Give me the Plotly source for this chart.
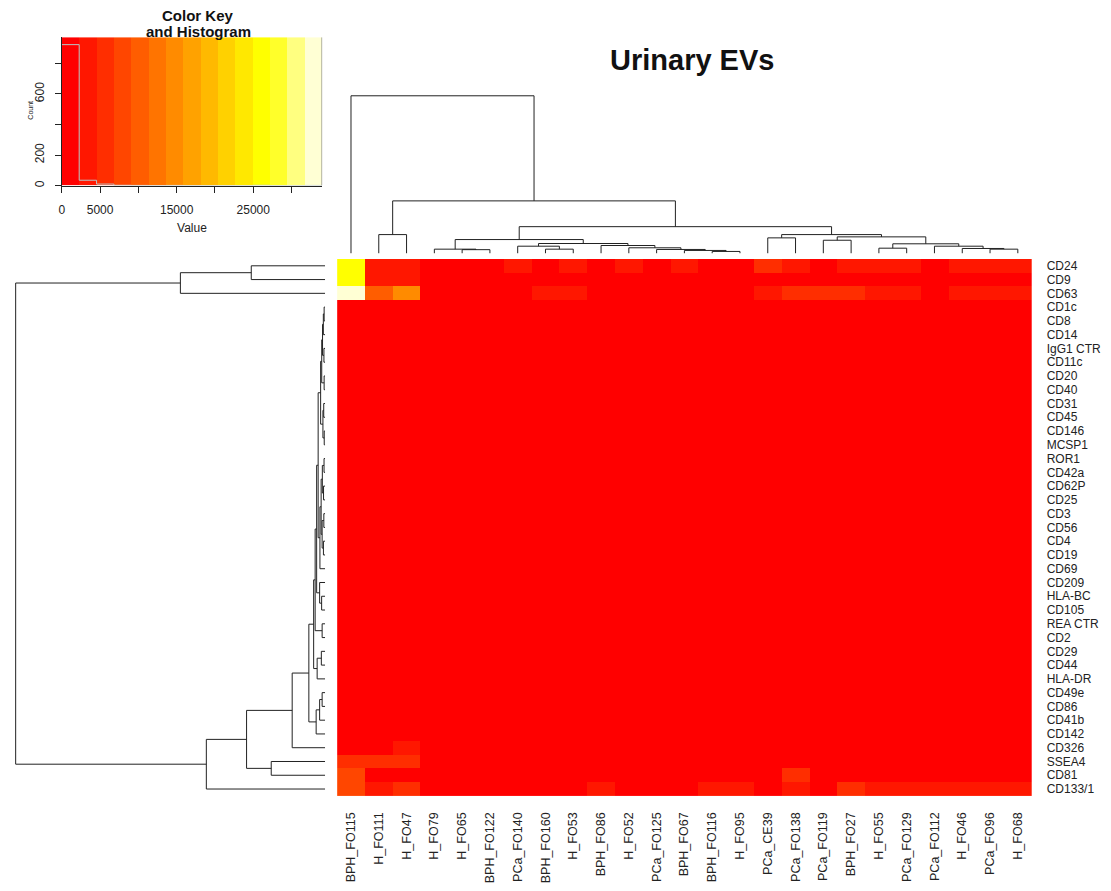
import numpy as np
import plotly.graph_objects as go

# ---------------- data ----------------
col_labels = ["BPH_FO115", "H_FO111", "H_FO47", "H_FO79", "H_FO65", "BPH_FO122", "PCa_FO140",
              "BPH_FO160", "H_FO53", "BPH_FO86", "H_FO52", "PCa_FO125", "BPH_FO67", "BPH_FO116",
              "H_FO95", "PCa_CE39", "PCa_FO138", "PCa_FO119", "BPH_FO27", "H_FO55", "PCa_FO129",
              "PCa_FO112", "H_FO46", "PCa_FO96", "H_FO68"]

row_labels = ["CD24", "CD9", "CD63", "CD1c", "CD8", "CD14", "IgG1 CTR", "CD11c", "CD20", "CD40",
              "CD31", "CD45", "CD146", "MCSP1", "ROR1", "CD42a", "CD62P", "CD25", "CD3", "CD56",
              "CD4", "CD19", "CD69", "CD209", "HLA-BC", "CD105", "REA CTR", "CD2", "CD29", "CD44",
              "HLA-DR", "CD49e", "CD86", "CD41b", "CD142", "CD326", "SSEA4", "CD81", "CD133/1"]

# estimated MFI values (rows in displayed order, columns in displayed order)
v_CD24 = [25500, 3600, 3400, 1900, 1800, 2000, 3100, 2100, 3000, 2000, 3200, 2100, 3000, 1900, 2200, 6200, 3800, 2100, 3300, 3100, 3000, 2000, 3200, 3300, 3100]
v_CD9 = [25000, 2900, 2800, 1300, 1200, 1100, 1400, 1200, 1300, 1000, 1100, 1200, 1300, 1100, 1000, 1500, 1400, 1200, 1300, 1200, 1100, 1000, 1300, 1200, 1100]
v_CD63 = [34000, 9500, 14500, 1600, 1500, 1400, 1700, 3300, 3400, 1800, 1600, 1500, 1700, 1800, 1900, 3200, 5000, 4900, 4700, 3600, 3500, 1900, 3300, 3400, 3500]
v_CD1c = [420, 380, 350, 300, 310, 290, 330, 360, 340, 300, 320, 310, 300, 290, 330, 350, 370, 300, 320, 310, 300, 290, 330, 320, 310]
v_CD8 = [390, 360, 330, 280, 290, 270, 310, 340, 320, 280, 300, 290, 280, 270, 310, 330, 350, 280, 300, 290, 280, 270, 310, 300, 290]
v_CD14 = [450, 400, 380, 330, 320, 300, 350, 380, 360, 320, 340, 330, 320, 310, 350, 370, 390, 330, 340, 330, 320, 310, 350, 340, 330]
v_IgG1 = [60, 45, 30, 0, 15, 10, 25, 40, 35, 20, 30, 25, 15, 10, 30, 45, 55, 20, 30, 25, 15, 10, 30, 25, 20]
v_CD11c = [480, 430, 400, 350, 340, 320, 370, 400, 380, 340, 360, 350, 340, 330, 370, 390, 410, 350, 360, 350, 340, 330, 370, 360, 350]
v_CD20 = [410, 370, 350, 300, 300, 280, 320, 350, 330, 300, 310, 300, 290, 280, 320, 340, 360, 300, 310, 300, 290, 280, 320, 310, 300]
v_CD40 = [440, 400, 370, 320, 330, 300, 340, 370, 350, 320, 330, 320, 310, 300, 340, 360, 380, 320, 330, 320, 310, 300, 340, 330, 320]
v_CD31 = [520, 470, 440, 380, 370, 350, 400, 430, 410, 370, 390, 380, 370, 360, 400, 420, 440, 380, 390, 380, 370, 360, 400, 390, 380]
v_CD45 = [500, 450, 420, 360, 360, 340, 390, 420, 400, 360, 380, 370, 360, 350, 390, 410, 430, 370, 380, 370, 360, 350, 390, 380, 370]
v_CD146 = [560, 500, 470, 410, 400, 380, 430, 460, 440, 400, 420, 410, 400, 390, 430, 450, 470, 410, 420, 410, 400, 390, 430, 420, 410]
v_MCSP1 = [540, 490, 460, 400, 390, 370, 420, 450, 430, 390, 410, 400, 390, 380, 420, 440, 460, 400, 410, 400, 390, 380, 420, 410, 400]
v_ROR1 = [580, 520, 490, 430, 420, 400, 450, 480, 460, 420, 440, 430, 420, 410, 450, 470, 490, 430, 440, 430, 420, 410, 450, 440, 430]
v_CD42a = [620, 560, 520, 460, 450, 430, 480, 510, 490, 450, 470, 460, 450, 440, 480, 500, 520, 460, 470, 460, 450, 440, 480, 470, 460]
v_CD62P = [600, 540, 510, 450, 440, 420, 470, 500, 480, 440, 460, 450, 440, 430, 470, 490, 510, 450, 460, 450, 440, 430, 470, 460, 450]
v_CD25 = [640, 580, 540, 480, 470, 450, 500, 530, 510, 470, 490, 480, 470, 460, 500, 520, 540, 480, 490, 480, 470, 460, 500, 490, 480]
v_CD3 = [660, 600, 560, 500, 490, 470, 520, 550, 530, 490, 510, 500, 490, 480, 520, 540, 560, 500, 510, 500, 490, 480, 520, 510, 500]
v_CD56 = [680, 620, 580, 520, 510, 490, 540, 570, 550, 510, 530, 520, 510, 500, 540, 560, 580, 520, 530, 520, 510, 500, 540, 530, 520]
v_CD4 = [700, 640, 600, 540, 530, 510, 560, 590, 570, 530, 550, 540, 530, 520, 560, 580, 600, 540, 550, 540, 530, 520, 560, 550, 540]
v_CD19 = [720, 660, 620, 560, 550, 530, 580, 610, 590, 550, 570, 560, 550, 540, 580, 600, 620, 560, 570, 560, 550, 540, 580, 570, 560]
v_CD69 = [760, 700, 660, 600, 590, 570, 620, 650, 630, 590, 610, 600, 590, 580, 620, 640, 660, 600, 610, 600, 590, 580, 620, 610, 600]
v_CD209 = [800, 740, 700, 640, 630, 610, 660, 690, 670, 630, 650, 640, 630, 620, 660, 680, 700, 640, 650, 640, 630, 620, 660, 650, 640]
v_HLABC = [850, 790, 750, 690, 680, 660, 710, 740, 720, 680, 700, 690, 680, 670, 710, 730, 750, 690, 700, 690, 680, 670, 710, 700, 690]
v_CD105 = [870, 810, 770, 710, 700, 680, 730, 760, 740, 700, 720, 710, 700, 690, 730, 750, 770, 710, 720, 710, 700, 690, 730, 720, 710]
v_REA = [90, 70, 60, 30, 35, 25, 45, 60, 55, 35, 45, 40, 35, 30, 50, 60, 70, 40, 45, 40, 35, 30, 50, 45, 40]
v_CD2 = [920, 860, 820, 760, 750, 730, 780, 810, 790, 750, 770, 760, 750, 740, 780, 800, 820, 760, 770, 760, 750, 740, 780, 770, 760]
v_CD29 = [980, 920, 880, 820, 810, 790, 840, 870, 850, 810, 830, 820, 810, 800, 840, 860, 880, 820, 830, 820, 810, 800, 840, 830, 820]
v_CD44 = [1000, 940, 900, 840, 830, 810, 860, 890, 870, 830, 850, 840, 830, 820, 860, 880, 900, 840, 850, 840, 830, 820, 860, 850, 840]
v_HLADR = [1080, 1020, 980, 920, 910, 890, 940, 970, 950, 910, 930, 920, 910, 900, 940, 960, 980, 920, 930, 920, 910, 900, 940, 930, 920]
v_CD49e = [1150, 1090, 1050, 990, 980, 960, 1010, 1040, 1020, 980, 1000, 990, 980, 970, 1010, 1030, 1050, 990, 1000, 990, 980, 970, 1010, 1000, 990]
v_CD86 = [1170, 1110, 1070, 1010, 1000, 980, 1030, 1060, 1040, 1000, 1020, 1010, 1000, 990, 1030, 1050, 1070, 1010, 1020, 1010, 1000, 990, 1030, 1020, 1010]
v_CD41b = [1220, 1160, 1120, 1060, 1050, 1030, 1080, 1110, 1090, 1050, 1070, 1060, 1050, 1040, 1080, 1100, 1120, 1060, 1070, 1060, 1050, 1040, 1080, 1070, 1060]
v_CD142 = [1350, 1290, 1250, 1190, 1180, 1160, 1210, 1240, 1220, 1180, 1200, 1190, 1180, 1170, 1210, 1230, 1250, 1190, 1200, 1190, 1180, 1170, 1210, 1200, 1190]
v_CD326 = [1900, 1800, 3900, 1500, 1400, 1300, 1500, 1600, 1500, 1400, 1500, 1400, 1300, 1300, 1500, 1600, 1700, 1400, 1500, 1400, 1300, 1300, 1500, 1400, 1300]
v_SSEA4 = [5300, 5000, 5400, 1300, 1200, 1100, 1300, 1400, 1300, 1200, 1300, 1200, 1100, 1100, 1300, 1400, 1500, 1200, 1300, 1200, 1100, 1100, 1300, 1200, 1100]
v_CD81 = [8500, 1900, 1800, 1400, 1300, 1200, 1400, 1500, 1400, 1300, 1400, 1300, 1200, 1200, 1400, 1500, 5200, 1300, 1400, 1300, 1200, 1200, 1400, 1300, 1200]
v_CD133 = [7600, 3700, 5600, 1800, 1700, 1600, 1900, 2000, 1900, 3300, 2000, 1900, 1800, 3400, 3300, 2100, 4300, 1900, 5500, 3200, 3400, 3300, 3500, 3600, 3400]

# column dendrogram: (node, left, right, height); ints = leaf positions
col_links = [
    ("a", 4, 5, 3.8), ("b", 3, "a", 4.3), ("c", 7, 8, 4.3), ("d", 6, "c", 7.3),
    ("e", 13, 14, 2.0), ("f", 12, "e", 3.0), ("g", 11, "f", 4.0), ("h", 10, "g", 5.7),
    ("i", 9, "h", 8.0), ("j", "d", "i", 10.0), ("k", "b", "j", 14.0),
    ("r1", 23, 24, 4.3), ("r2", 22, "r1", 5.0), ("r3", 21, "r2", 7.3), ("r4", 19, 20, 5.3),
    ("r5", "r4", "r3", 9.7), ("r6", 17, 18, 13.3), ("r7", "r6", "r5", 16.7),
    ("r8", 15, 16, 15.7), ("r9", "r8", "r7", 19.0), ("r10", "k", "r9", 27.0),
    ("l", 1, 2, 19.0), ("m", "l", "r10", 53.0), ("root", 0, "m", 159.0),
]

# row dendrogram
row_links = [
    ("a1", 0, 1, 74.0), ("a2", "a1", 2, 145.0),
    ("c1", 3, 4, 1.0), ("c2", "c1", 5, 1.8), ("c3", 6, 7, 1.2), ("c4", "c2", "c3", 2.6),
    ("c5", 8, 9, 1.0), ("c6", "c4", "c5", 3.4), ("c7", 10, 11, 1.4), ("c8", 12, 13, 0.9),
    ("c9", "c7", "c8", 2.2), ("c10", "c6", "c9", 4.5), ("c11", 14, 15, 1.1), ("c12", 16, 17, 1.6),
    ("c13", "c11", "c12", 2.8), ("c14", 18, 19, 1.3), ("c15", 20, 21, 1.7), ("c16", "c14", "c15", 3.0),
    ("c17", "c13", "c16", 4.0), ("c18", "c17", 22, 5.2), ("c19", "c10", "c18", 7.0),
    ("c20", 24, 25, 3.5), ("c21", 23, "c20", 5.5), ("c22", "c19", "c21", 8.5),
    ("c23", 26, 27, 3.0), ("c24", "c22", "c23", 10.0), ("c25", 28, 29, 3.8), ("c26", "c25", 30, 8.0),
    ("c27", "c24", "c26", 11.5), ("c28", 31, 32, 3.0), ("c29", "c28", 33, 5.5), ("c30", "c29", 34, 9.0),
    ("c31", "c27", "c30", 16.3), ("c32", "c31", 35, 33.0), ("c33", 36, 37, 54.0),
    ("c34", "c32", "c33", 78.7), ("c35", "c34", 38, 119.0), ("root", "a2", "c35", 310.0),
]

# ---------------- derived ----------------
Z = np.array([v_CD24, v_CD9, v_CD63, v_CD1c, v_CD8, v_CD14, v_IgG1, v_CD11c, v_CD20, v_CD40,
              v_CD31, v_CD45, v_CD146, v_MCSP1, v_ROR1, v_CD42a, v_CD62P, v_CD25, v_CD3, v_CD56,
              v_CD4, v_CD19, v_CD69, v_CD209, v_HLABC, v_CD105, v_REA, v_CD2, v_CD29, v_CD44,
              v_HLADR, v_CD49e, v_CD86, v_CD41b, v_CD142, v_CD326, v_SSEA4, v_CD81, v_CD133], dtype=float)
nrow, ncol = Z.shape

# R heat.colors(15)
NCOL = 15
j = NCOL // 4
i_ = NCOL - j
heat = []
for k in range(i_):
    g = round(255 * k / (i_ - 1))
    heat.append(f"rgb(255,{g},0)")
for s in np.linspace(1 - 1 / (2 * j), 1 / (2 * j), j):
    heat.append(f"rgb(255,255,{round(255 * (1 - s))})")

breaks = np.linspace(Z.min(), Z.max(), NCOL + 1)
cscale = []
for k, c in enumerate(heat):
    cscale.append([k / NCOL, c])
    cscale.append([(k + 1) / NCOL, c])

counts, _ = np.histogram(Z.ravel(), bins=breaks)
ytop = counts.max() / 0.95


def dendro_lines(links):
    pos, hgt = {}, {}
    P, Hh = [], []
    for name, l, r, h in links:
        pl, hl = (pos[l], hgt[l]) if isinstance(l, str) else (float(l), 0.0)
        pr, hr = (pos[r], hgt[r]) if isinstance(r, str) else (float(r), 0.0)
        P += [pl, pl, pr, pr, None]
        Hh += [hl, h, h, hr, None]
        pos[name] = (pl + pr) / 2
        hgt[name] = h
    return P, Hh, hgt["root"]


cp, ch, croot = dendro_lines(col_links)
rp, rh, rroot = dendro_lines(row_links)

# ---------------- layout helpers ----------------
W, H = 1111, 891
def fx(px): return px / W
def fy(py): return 1 - py / H

FONT = "Liberation Sans, Arial, Helvetica, sans-serif"
HM_L, HM_R, HM_T, HM_B = 335, 1031.5, 259.5, 797.7

fig = go.Figure()
fig.add_trace(go.Heatmap(z=Z, x=list(range(ncol)), y=list(range(nrow)), colorscale=cscale,
                         zmin=breaks[0], zmax=breaks[-1], showscale=False, xaxis="x", yaxis="y",
                         hoverinfo="skip"))
fig.add_trace(go.Scatter(x=cp, y=ch, mode="lines", line=dict(color="#222", width=1),
                         xaxis="x2", yaxis="y2", hoverinfo="skip"))
fig.add_trace(go.Scatter(x=rh, y=rp, mode="lines", line=dict(color="#222", width=1),
                         xaxis="x3", yaxis="y3", hoverinfo="skip"))
# color key
mids = (breaks[:-1] + breaks[1:]) / 2
fig.add_trace(go.Heatmap(z=[list(mids)], x=list(breaks), y=[0, ytop], colorscale=cscale,
                         zmin=breaks[0], zmax=breaks[-1], showscale=False, xaxis="x4", yaxis="y4",
                         hoverinfo="skip"))
fig.add_trace(go.Scatter(x=list(breaks), y=list(counts) + [counts[-1]], mode="lines",
                         line=dict(color="#b8c4c4", width=1, shape="hv"),
                         xaxis="x4", yaxis="y4", hoverinfo="skip"))

tickfont = dict(family=FONT, size=12, color="#222")
key_ticks = list(range(0, int(breaks[-1]) + 1, 5000))
key_ticktext = [str(t) if t in (0, 5000, 15000, 25000) else "" for t in key_ticks]
cnt_ticks = [0, 200, 400, 600, 800]
cnt_text = ["0", "200", "", "600", ""]

fig.update_layout(
    width=W, height=H, margin=dict(l=0, r=0, t=0, b=0),
    paper_bgcolor="white", plot_bgcolor="white", showlegend=False,
    xaxis=dict(domain=[fx(HM_L), fx(HM_R)], range=[-0.5, ncol - 0.5], tickmode="array",
               tickvals=list(range(ncol)), ticktext=col_labels, tickangle=-90, ticks="",
               ticklabelstandoff=13, showgrid=False, zeroline=False, showline=False,
               tickfont=dict(family=FONT, size=12.5, color="#222"), anchor="y", fixedrange=True),
    yaxis=dict(domain=[fy(HM_B), fy(HM_T)], range=[nrow - 0.5, -0.5], side="right",
               tickmode="array", tickvals=list(range(nrow)), ticktext=row_labels, ticks="",
               ticklabelstandoff=14, showgrid=False, zeroline=False, showline=False,
               tickfont=tickfont, anchor="x", fixedrange=True),
    xaxis2=dict(domain=[fx(HM_L), fx(HM_R)], range=[-0.5, ncol - 0.5], visible=False, anchor="y2"),
    yaxis2=dict(domain=[fy(254), fy(88)], range=[0, croot * (254 - 88) / (254 - 96)],
                visible=False, anchor="x2"),
    xaxis3=dict(domain=[fx(10), fx(323)], range=[rroot * (323 - 10) / (323 - 12.7), 0],
                visible=False, anchor="y3"),
    yaxis3=dict(domain=[fy(HM_B), fy(HM_T)], range=[nrow - 0.5, -0.5], visible=False, anchor="x3"),
    xaxis4=dict(domain=[fx(59), fx(320)], range=[breaks[0], breaks[-1]], tickmode="array",
                tickvals=key_ticks, ticktext=key_ticktext, ticks="outside", ticklen=6,
                tickcolor="#222", showline=True, linecolor="#222", linewidth=1,
                showgrid=False, zeroline=False, tickfont=tickfont, ticklabelstandoff=7,
                title=dict(text="Value", font=dict(family=FONT, size=12, color="#222"), standoff=7),
                anchor="y4", fixedrange=True),
    yaxis4=dict(domain=[fy(186), fy(37.3)], range=[0, ytop], tickmode="array",
                tickvals=cnt_ticks, ticktext=cnt_text, tickangle=-90, ticks="outside", ticklen=6,
                tickcolor="#222", showline=True, linecolor="#222", linewidth=1,
                showgrid=False, zeroline=False, tickfont=tickfont, ticklabelstandoff=6,
                anchor="x4", fixedrange=True),
    annotations=[
        dict(text="<b>Urinary EVs</b>", x=fx(691), y=fy(60), xref="paper", yref="paper",
             showarrow=False, font=dict(family=FONT, size=29, color="#111"),
             xanchor="center", yanchor="middle"),
        dict(text="<b>Color Key</b>", x=fx(196), y=fy(16), xref="paper", yref="paper",
             showarrow=False, font=dict(family=FONT, size=15, color="#111"),
             xanchor="center", yanchor="middle"),
        dict(text="<b>and Histogram</b>", x=fx(196), y=fy(32), xref="paper", yref="paper",
             showarrow=False, font=dict(family=FONT, size=15, color="#111"),
             xanchor="center", yanchor="middle"),
        dict(text="Count", x=fx(28), y=fy(110), xref="paper", yref="paper", textangle=-90,
             showarrow=False, font=dict(family=FONT, size=7, color="#222"),
             xanchor="center", yanchor="middle"),
    ],
    shapes=[dict(type="line", xref="x4", yref="y4", x0=breaks[-1], x1=breaks[-1], y0=0, y1=ytop,
                 line=dict(color="#555", width=1))],
)

fig.write_html("out.html", config={"displayModeBar": False, "staticPlot": True},
               post_script="document.body.style.margin='0';document.body.style.overflow='hidden';")
